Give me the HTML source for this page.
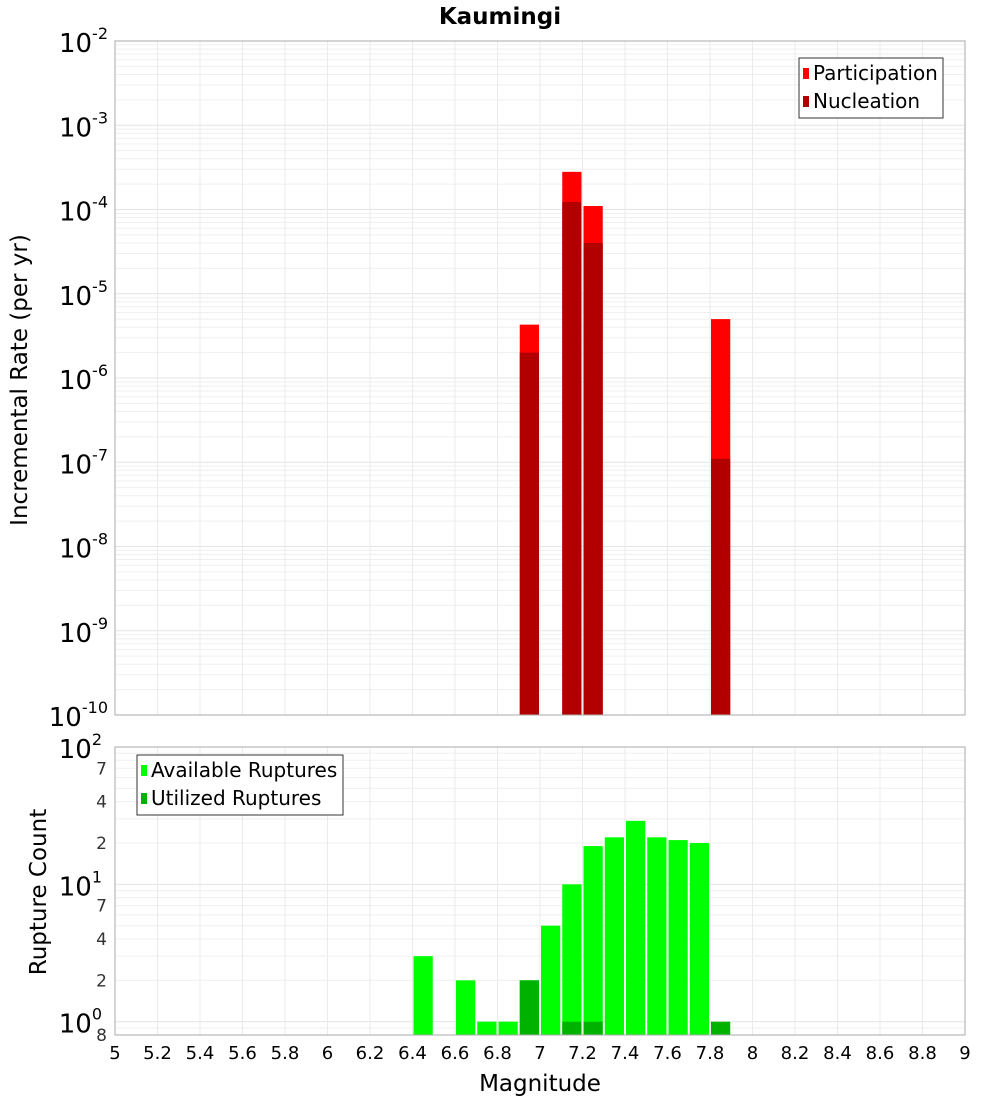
<!DOCTYPE html>
<html><head><meta charset="utf-8"><style>
body{margin:0;background:#fff;}
svg{font-family:"DejaVu Sans","Liberation Sans",sans-serif;}
</style></head><body>
<svg id="c" width="1000" height="1100" xmlns="http://www.w3.org/2000/svg"></svg>
<script>
const binCenters=[6.45,6.65,6.75,6.85,6.95,7.05,7.15,7.25,7.35,7.45,7.55,7.65,7.75,7.85];
const availableCounts=[3,2,1,1,2,5,10,19,22,29,22,21,20,0];
const utilizedCounts=[0,0,0,0,2,0,1,1,0,0,0,0,0,1];
const rateMags=[6.95,7.15,7.25,7.85];
const participationRates=[4.3e-6,2.8e-4,1.1e-4,5e-6];
const nucleationRates=[2.0e-6,1.23e-4,4.0e-5,1.1e-7];
const xTicks=[5,5.2,5.4,5.6,5.8,6,6.2,6.4,6.6,6.8,7,7.2,7.4,7.6,7.8,8,8.2,8.4,8.6,8.8,9];
const topExps=[-2,-3,-4,-5,-6,-7,-8,-9,-10];

const svg=document.getElementById('c');const NS='http://www.w3.org/2000/svg';
function mk(t,a,p){const e=document.createElementNS(NS,t);for(const k in a)e.setAttribute(k,a[k]);(p||svg).appendChild(e);return e;}
const X0=115,X1=965;
const xs=m=>X0+(m-5)/4*(X1-X0);
const T0=41,T1=715;const yT=v=>T1-(Math.log10(v)+10)/8*(T1-T0);
const B0=747,B1=1035;const lo=Math.log10(0.8),hi=2;const yB=v=>B1-(Math.log10(v)-lo)/(hi-lo)*(B1-B0);

let t=mk('text',{x:500,y:24,'text-anchor':'middle','font-size':23,'font-weight':'bold'});t.textContent='Kaumingi';


const gTop=mk('g',{});
for(let e=-10;e<-2;e++)for(let k=1;k<10;k++){const y=yT(k*Math.pow(10,e));mk('line',{x1:X0,x2:X1,y1:y,y2:y,stroke:k==1?'#e4e4e4':'#efefef','stroke-width':1},gTop);}
const gBot=mk('g',{});
for(let e=-1;e<2;e++)for(let k=1;k<10;k++){const v=k*Math.pow(10,e);if(v<0.8)continue;const y=yB(v);mk('line',{x1:X0,x2:X1,y1:y,y2:y,stroke:k==1?'#e4e4e4':'#efefef'},gBot);}
xTicks.forEach(m=>{const x=xs(m);mk('line',{x1:x,x2:x,y1:T0,y2:T1,stroke:'#ebebeb'},gTop);mk('line',{x1:x,x2:x,y1:B0,y2:B1,stroke:'#ebebeb'},gBot);});

const bw=0.1*(X1-X0)/4;
rateMags.forEach((m,i)=>{
 let r=mk('rect',{x:xs(m)-bw/2+1,y:yT(participationRates[i]),width:bw-2,height:T1-yT(participationRates[i]),fill:'#ff0000'});
 
 r=mk('rect',{x:xs(m)-bw/2+1,y:yT(nucleationRates[i]),width:bw-2,height:T1-yT(nucleationRates[i]),fill:'#b20000'});
 
});
binCenters.forEach((m,i)=>{
 if(availableCounts[i]>0){let r=mk('rect',{x:xs(m)-bw/2+1,y:yB(availableCounts[i]),width:bw-2,height:B1-yB(availableCounts[i]),fill:'#00ff00'});
 }
 if(utilizedCounts[i]>0){let r=mk('rect',{x:xs(m)-bw/2+1,y:yB(utilizedCounts[i]),width:bw-2,height:B1-yB(utilizedCounts[i]),fill:'#00b200'});
 }
});
let f=mk('rect',{x:X0,y:T0,width:X1-X0,height:T1-T0,fill:'none',stroke:'#aaa'});
f=mk('rect',{x:X0,y:B0,width:X1-X0,height:B1-B0,fill:'none',stroke:'#aaa'});

topExps.forEach(e=>{const y=yT(Math.pow(10,e));const g=mk('text',{x:108,y:y+11,'text-anchor':'end','font-size':26});
 
 const a=mk('tspan',{},g);a.textContent='10';const b=mk('tspan',{dy:-13,'font-size':16},g);b.textContent=String(e);});
[[2,yB(100)],[1,yB(10)],[0,yB(1)]].forEach(([e,y])=>{const g=mk('text',{x:102,y:y+11,'text-anchor':'end','font-size':26});
 
 const a=mk('tspan',{},g);a.textContent='10';const b=mk('tspan',{dy:-13,'font-size':16},g);b.textContent=String(e);});
[[7,70],[4,40],[2,20],[7,7],[4,4],[2,2],[8,0.8]].forEach(([lab,v])=>{const s=mk('text',{x:107,y:yB(v)+6,'text-anchor':'end','font-size':17,fill:'#333'});s.textContent=lab;
 });
xTicks.forEach(m=>{const s=mk('text',{x:xs(m),y:1059,'text-anchor':'middle','font-size':18});s.textContent=String(m);
 });
let a=mk('text',{x:540,y:1091,'text-anchor':'middle','font-size':23});a.textContent='Magnitude';
a=mk('text',{x:27,y:380,'text-anchor':'middle','font-size':23,transform:'rotate(-90 27 380)'});a.textContent='Incremental Rate (per yr)';
a=mk('text',{x:46,y:892,'text-anchor':'middle','font-size':23,transform:'rotate(-90 46 892)'});a.textContent='Rupture Count';

function legend(x,y,w,items,name){const g=mk('g',{});
 mk('rect',{x:x,y:y,width:w,height:items.length*28+4,fill:'#fff',stroke:'#333'},g);
 items.forEach(([lab,col],i)=>{mk('rect',{x:x+4,y:y+10+i*28,width:6,height:11,fill:col},g);
 const s=mk('text',{x:x+14,y:y+22+i*28,'font-size':20},g);s.textContent=lab;});}
legend(799,58,144,[['Participation','#ff0000'],['Nucleation','#b20000']],'top-legend');
legend(137,755,206,[['Available Ruptures','#00ff00'],['Utilized Ruptures','#00b200']],'bottom-legend');
</script>
</body></html>
